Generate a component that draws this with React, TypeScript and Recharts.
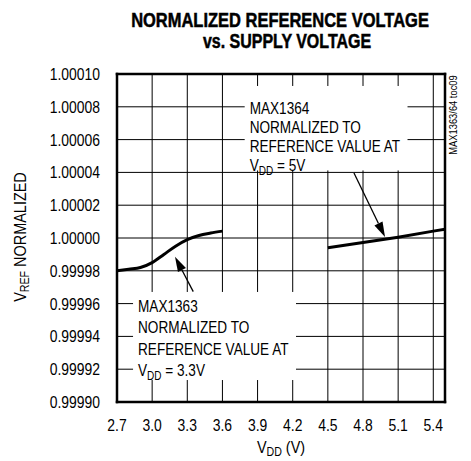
import { LineChart, Line, XAxis, YAxis, ReferenceLine } from "recharts";

const FONT = "'Liberation Sans', Arial, sans-serif";
const SQ = 0.82; // horizontal squeeze to mimic a narrow face

const xTicks = [2.7, 3.0, 3.3, 3.6, 3.9, 4.2, 4.5, 4.8, 5.1, 5.4];
const yTicks = [0.9999, 0.99992, 0.99994, 0.99996, 0.99998, 1.0, 1.00002, 1.00004, 1.00006, 1.00008, 1.0001];
const xDomain = [2.7, 5.5];
const yDomain = [0.9999, 1.0001];

// MAX1363, normalized at 3.3V
const vdd1363 = [2.7, 2.8, 2.9, 3.0, 3.1, 3.2, 3.3, 3.4, 3.5, 3.6];
const ref1363 = [0.99998, 0.999981, 0.999982, 0.999985, 0.99999, 0.999995, 0.999999, 1.0000015, 1.000003, 1.0000042];

// MAX1364, normalized at 5V
const vdd1364 = [4.5, 4.8, 5.1, 5.4, 5.5];
const ref1364 = [0.999994, 0.9999972, 1.0000005, 1.0000042, 1.0000053];

const data1363 = vdd1363.map((v, i) => ({ v, ref: ref1363[i] }));
const data1364 = vdd1364.map((v, i) => ({ v, ref: ref1364[i] }));

const note1364 = ["MAX1364", "NORMALIZED TO", "REFERENCE VALUE AT"];
const note1363 = ["MAX1363", "NORMALIZED TO", "REFERENCE VALUE AT"];

function XTick({ x, y, payload }: any) {
  return (
    <text transform={`translate(${x},${y}) scale(${SQ},1)`} textAnchor="middle" dy="0.71em" fontSize={17} fontFamily={FONT} fill="#000">
      {payload.value.toFixed(1)}
    </text>
  );
}

function YTick({ x, y, payload }: any) {
  return (
    <text transform={`translate(${x},${y}) scale(${SQ},1)`} textAnchor="end" dy="0.355em" fontSize={17} fontFamily={FONT} fill="#000">
      {payload.value.toFixed(5)}
    </text>
  );
}

// white label box spanning the segment's two corners, with the note text inside
function noteBox(lines: string[], vdd: string, dx: number, dy: number, gap: number) {
  return (p: any) => {
    const x = Math.min(p.x1, p.x2);
    const y = Math.min(p.y1, p.y2);
    const w = Math.abs(p.x2 - p.x1);
    const h = Math.abs(p.y2 - p.y1);
    return (
      <g>
        <rect x={x} y={y} width={w} height={h} fill="#fff" />
        <g transform={`translate(${x + dx},${y + dy}) scale(0.8,1)`} fontFamily={FONT} fontSize={17} fill="#000">
          {lines.map((t, i) => (
            <text key={t} x={0} y={i * gap}>{t}</text>
          ))}
          <text x={0} y={3 * gap}>
            V<tspan fontSize={12.5} dy={4}>DD</tspan>
            <tspan dy={-4}> = {vdd}</tspan>
          </text>
        </g>
      </g>
    );
  };
}

function Arrow(props: any) {
  const { x1, y1, x2, y2 } = props;
  const ang = Math.atan2(y2 - y1, x2 - x1);
  const len = 15;
  const half = 4.5;
  const bx = x2 - len * Math.cos(ang);
  const by = y2 - len * Math.sin(ang);
  const px = -Math.sin(ang) * half;
  const py = Math.cos(ang) * half;
  return (
    <g>
      <line x1={x1} y1={y1} x2={bx} y2={by} stroke="#000" strokeWidth={1.3} />
      <polygon points={`${x2},${y2} ${bx + px},${by + py} ${bx - px},${by - py}`} fill="#000" />
    </g>
  );
}

export default function App() {
  return (
    <div style={{ position: "absolute", left: 0, top: 0, width: 471, height: 461, background: "#fff" }}>
      <LineChart width={471} height={461} margin={{ top: 74, right: 26, bottom: 0, left: 0 }}>
        <XAxis
          type="number"
          dataKey="v"
          domain={xDomain}
          ticks={xTicks}
          height={59}
          axisLine={false}
          tickLine={false}
          tickSize={0}
          tickMargin={17}
          tick={<XTick />}
          allowDataOverflow
        />
        <YAxis
          type="number"
          domain={yDomain}
          ticks={yTicks}
          width={117}
          axisLine={false}
          tickLine={false}
          tickSize={0}
          tickMargin={17}
          tick={<YTick />}
          allowDataOverflow
        />
        {xTicks.map((t) => (
          <ReferenceLine key={"gx" + t} x={t} stroke="#000" strokeWidth={1} />
        ))}
        {yTicks.map((t) => (
          <ReferenceLine key={"gy" + t} y={t} stroke="#000" strokeWidth={1} />
        ))}
        <ReferenceLine
          segment={[{ x: 3.79, y: 1.0000927 }, { x: 5.18, y: 1.0000412 }]}
          shape={noteBox(note1364, "5V", 5, 28, 19)}
        />
        <ReferenceLine
          segment={[{ x: 2.837, y: 0.9999671 }, { x: 4.228, y: 0.9999134 }]}
          shape={noteBox(note1363, "3.3V", 5, 20, 21.5)}
        />
        <ReferenceLine x={xDomain[0]} stroke="#000" strokeWidth={2.5} strokeLinecap="square" />
        <ReferenceLine x={xDomain[1]} stroke="#000" strokeWidth={2.5} strokeLinecap="square" />
        <ReferenceLine y={yDomain[0]} stroke="#000" strokeWidth={2.5} strokeLinecap="square" />
        <ReferenceLine y={yDomain[1]} stroke="#000" strokeWidth={2.5} strokeLinecap="square" />
        <Line data={data1363} dataKey="ref" type="monotone" stroke="#000" strokeWidth={3} dot={false} isAnimationActive={false} />
        <Line data={data1364} dataKey="ref" type="linear" stroke="#000" strokeWidth={3} dot={false} isAnimationActive={false} />
        <ReferenceLine segment={[{ x: 4.723, y: 1.0000396 }, { x: 4.988, y: 1.0000006 }]} shape={Arrow} />
        <ReferenceLine segment={[{ x: 3.351, y: 0.9999673 }, { x: 3.195, y: 0.9999886 }]} shape={Arrow} />
      </LineChart>
      <svg width={471} height={461} style={{ position: "absolute", left: 0, top: 0, pointerEvents: "none" }}>
        <g fontFamily={FONT} fontWeight="bold" fontSize={19.5} fill="#000" stroke="#000" strokeWidth={0.5} textAnchor="middle">
          <text transform="translate(280,27) scale(0.845,1)">NORMALIZED REFERENCE VOLTAGE</text>
          <text transform="translate(287,48) scale(0.82,1)">vs. SUPPLY VOLTAGE</text>
        </g>
        <text transform="translate(281,453) scale(0.85,1)" fontFamily={FONT} fontSize={17} textAnchor="middle">
          V<tspan fontSize={12.5} dy={3}>DD</tspan>
          <tspan dy={-3}> (V)</tspan>
        </text>
        <text transform="translate(26,237) rotate(-90) scale(0.85,1)" fontFamily={FONT} fontSize={17} textAnchor="middle">
          V<tspan fontSize={12.5} dy={3}>REF</tspan>
          <tspan dy={-3}> NORMALIZED</tspan>
        </text>
        <text transform="translate(457,115) rotate(-90) scale(0.85,1)" fontFamily={FONT} fontSize={11} textAnchor="middle">
          MAX1363/64 toc09
        </text>
      </svg>
    </div>
  );
}
